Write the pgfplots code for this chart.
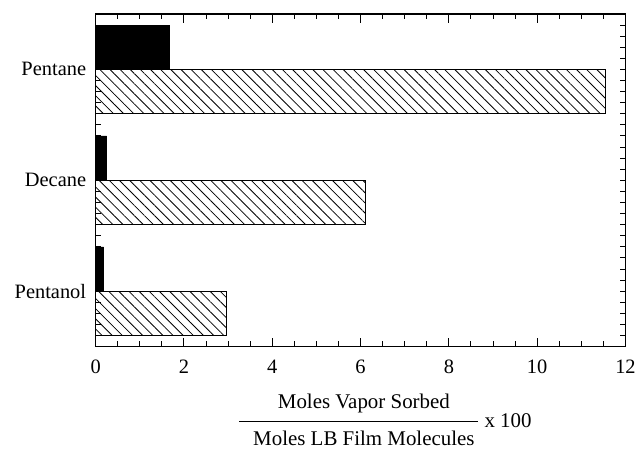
\documentclass[border=0pt]{standalone}
\usepackage{fontspec}
\setmainfont{Liberation Serif}
\usepackage{pgfplots}
\pgfplotsset{compat=1.18}
\usetikzlibrary{patterns.meta}
\begin{document}
\begin{tikzpicture}
\begin{axis}[
  at={(0,0)}, anchor=south west,
  scale only axis, width=532pt, height=334pt,
  xmin=0, xmax=12, ymin=-0.5, ymax=2.5,
  xbar, bar width=0.4,
  xtick={0,0.5,1,1.5,2,2.5,3,3.5,4,4.5,5,5.5,6,6.5,7,7.5,8,8.5,9,9.5,10,10.5,11,11.5,12},
  xticklabels=\empty,
  extra x ticks={0,2,4,6,8,10,12},
  extra x tick style={major tick length=9pt},
  ytick={-0.5,-0.4,-0.3,-0.2,-0.1,0,0.1,0.2,0.3,0.4,0.5,0.6,0.7,0.8,0.9,1,1.1,1.2,1.3,1.4,1.5,1.6,1.7,1.8,1.9,2,2.1,2.2,2.3,2.4,2.5},
  yticklabels=\empty,
  extra y ticks={0,1,2},
  extra y tick labels={Pentanol,Decane,Pentane},
  extra y tick style={major tick length=0pt},
  tick align=inside,
  major tick length=5.5pt,
  axis on top,
  axis line style={line width=1.3pt},
  every tick/.style={line width=0.9pt, black},
  tick label style={font=\fontsize{20.5}{24}\selectfont},
  xticklabel style={yshift=-10pt},
  yticklabel style={xshift=-6pt},
  /pgf/number format/assume math mode=true,
  xlabel={\setlength{\arrayrulewidth}{0.9pt}\begin{tabular}{@{\hspace{14pt}}c@{\hspace{3pt}}}Moles Vapor Sorbed\\[5pt]\hline\rule{0pt}{24pt}Moles LB Film Molecules\end{tabular}\hspace{7pt}x 100},
  xlabel style={font=\fontsize{21}{24.5}\selectfont, xshift=25pt, yshift=-11pt},
]
\addplot[fill=black, draw=black, bar shift=0.2] coordinates {(0.18,0) (0.25,1) (1.67,2)};
\addplot[draw=black, line width=0.7pt, pattern={Lines[angle=-45,distance=7.2pt,line width=0.8pt]}, bar shift=-0.2] coordinates {(2.95,0) (6.1,1) (11.55,2)};
\end{axis}
\path (-96pt,-104pt) rectangle (543pt,348pt);
\end{tikzpicture}
\end{document}
